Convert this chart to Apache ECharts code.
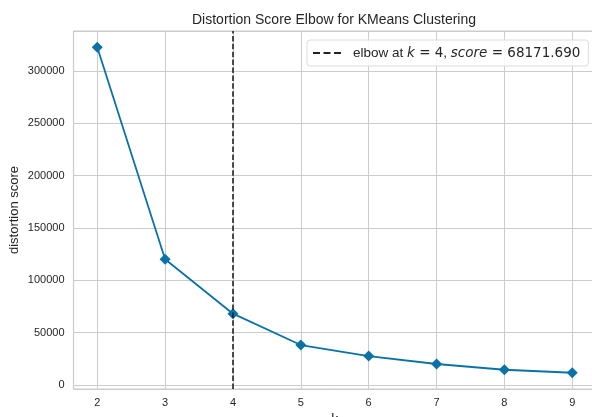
<!DOCTYPE html>
<html>
<head>
<meta charset="utf-8">
<script src="https://cdn.jsdelivr.net/npm/echarts@6/dist/echarts.min.js"></script>
<style>html,body{margin:0;padding:0;background:#fff}#c{width:592px;height:417px}</style>
</head>
<body>
<div id="c"></div>
<script>
const titleText = 'Distortion Score Elbow for KMeans Clustering';
const ks = [2, 3, 4, 5, 6, 7, 8, 9];
const scores = [322600, 120100, 68171.69, 38200, 27700, 20100, 14600, 11750];
const elbowK = 4;
const elbowScore = '68171.690';
const xName = 'k';
const yName = 'distortion score';

const chart = echarts.init(document.getElementById('c'), null, {renderer: 'canvas'});
const font = 'Liberation Sans, Arial, sans-serif';
const mathFont = 'DejaVu Sans';
const textColor = '#262626';
const gridColor = '#cccccc';

chart.setOption({
  animation: false,
  backgroundColor: '#ffffff',
  title: {
    text: titleText,
    left: 192, top: 13, padding: 0,
    textStyle: {fontFamily: font, fontSize: 14, fontWeight: 'normal', color: textColor}
  },
  legend: {
    data: ['elbow'],
    left: 307, top: 40,
    padding: [6, 8, 6, 6],
    itemGap: 12,
    itemWidth: 28, itemHeight: 2,
    icon: 'path://M0,0h7v2h-7z M10.5,0h7v2h-7z M21,0h7v2h-7z',
    itemStyle: {color: '#222'},
    backgroundColor: 'rgba(255,255,255,0.85)',
    borderColor: '#dcdcdc', borderWidth: 1, borderRadius: 3,
    formatter: function () {
      return '{s|}elbow at {i|k}{m| = ' + elbowK + '}, {i|score}{m| = ' + elbowScore + '}';
    },
    textStyle: {
      fontFamily: font, fontSize: 13.5, color: textColor,
      rich: {
        s: {width: 7},
        i: {fontStyle: 'italic', fontFamily: mathFont, fontSize: 13.5, color: textColor},
        m: {fontFamily: mathFont, fontSize: 13.5, color: textColor}
      }
    }
  },
  grid: {left: 73.5, right: -4, top: 31, bottom: 28, show: true, borderColor: gridColor, borderWidth: 1.2, outerBoundsMode: 'none', containLabel: false},
  xAxis: {
    type: 'value', min: 1.65, max: 9.35, splitNumber: 8,
    name: xName, nameLocation: 'middle', nameGap: 24, nameMoveOverlap: false,
    nameTextStyle: {fontFamily: font, fontSize: 14, color: textColor},
    axisLine: {show: false}, axisTick: {show: false},
    axisLabel: {
      margin: 8, fontFamily: font, fontSize: 11, color: textColor,
      formatter: v => (Math.abs(v - Math.round(v)) < 1e-9 ? String(Math.round(v)) : '')
    },
    splitLine: {show: true, lineStyle: {color: gridColor, width: 1}}
  },
  yAxis: {
    type: 'value', min: -3785, max: 338200, splitNumber: 7,
    name: yName, nameLocation: 'middle', nameGap: 53, nameRotate: 90, nameMoveOverlap: false,
    nameTextStyle: {fontFamily: font, fontSize: 13, color: textColor},
    axisLine: {show: false}, axisTick: {show: false},
    axisLabel: {
      margin: 9, fontFamily: font, fontSize: 11, color: textColor,
      formatter: v => (v % 50000 === 0 ? String(v) : '')
    },
    splitLine: {show: true, lineStyle: {color: gridColor, width: 1}}
  },
  series: [
    {
      name: 'distortion',
      type: 'line',
      data: ks.map((k, i) => [k, scores[i]]),
      symbol: 'diamond', symbolSize: 11,
      lineStyle: {color: '#0a72a6', width: 1.8},
      itemStyle: {color: '#0a72a6'},
      z: 3
    },
    {
      name: 'elbow',
      type: 'line',
      data: [],
      itemStyle: {color: '#222'},
      lineStyle: {color: '#222', type: [5.5, 2.4], width: 1.6},
      markLine: {
        silent: true, symbol: 'none', animation: false,
        label: {show: false},
        lineStyle: {color: '#222', type: [5.5, 2.4], width: 1.6},
        data: [{xAxis: elbowK}]
      },
      z: 4
    }
  ]
});
</script>
</body>
</html>
